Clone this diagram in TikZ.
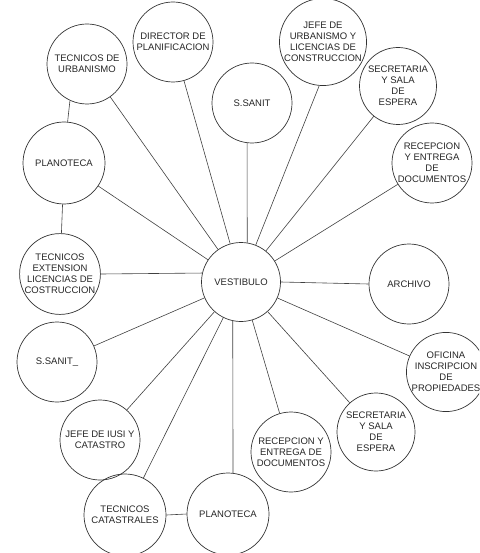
\documentclass[tikz,border=0pt]{standalone}
\usepackage{fontspec}
\setmainfont{Liberation Sans}
\begin{document}
\begin{tikzpicture}[x=1pt,y=-1pt,
  room/.style={circle, draw=black!80, line width=0.7pt, minimum size=80pt,
    inner sep=0pt, align=center, text=black!85,
    font=\fontsize{9.5}{11}\selectfont},
  link/.style={draw=black!75, line width=0.6pt}]
\useasboundingbox (0,0) rectangle (479,553);
\clip (0,0) rectangle (479,553);

% central hall
\node[room, minimum size=79pt] (vest) at (241,282) {VESTIBULO};

% surrounding rooms
\node[room] (tu)    at (87,64)   {TECNICOS DE\\URBANISMO};
\node[room] (dir)   at (173,42)  {DIRECTOR DE\\PLANIFICACION};
\node[room] (ssan1) at (252,103) {S.SANIT};
\node[room, minimum size=82pt] (jefeu) at (323,42) {JEFE DE\\URBANISMO Y\\LICENCIAS DE\\CONSTRUCCION};
\node[room, minimum size=77pt] (sec1) at (398,86) {SECRETARIA\\Y SALA\\DE\\ESPERA};
\node[room] (rec1)  at (432,163) {RECEPCION\\Y ENTREGA\\DE\\DOCUMENTOS};
\node[room] (arch)  at (409,284) {ARCHIVO};
\node[room, minimum size=78pt] (ofi) at (446,372) {OFICINA\\INSCRIPCION\\DE\\PROPIEDADES};
\node[room, minimum size=78pt] (sec2) at (376,432) {SECRETARIA\\Y SALA\\DE\\ESPERA};
\node[room] (rec2)  at (291,452) {RECEPCION Y\\ENTREGA DE\\DOCUMENTOS};
\node[room, minimum size=82pt] (plan2) at (228,514) {PLANOTECA};
\node[room, minimum size=82pt] (tc) at (125,515) {TECNICOS\\CATASTRALES};
\node[room] (iusi)  at (100,440) {JEFE DE IUSI Y\\CATASTRO};
\node[room] (ssan2) at (57,362)  {S.SANIT\_};
\node[room, minimum size=78pt] (tex) at (60,274) {TECNICOS\\EXTENSION\\LICENCIAS DE\\COSTRUCCION};
\node[room, minimum size=82pt] (plan1) at (64,163) {PLANOTECA};

% connections from the hall
\draw[link] (vest) -- (tu);
\draw[link] (vest) -- (dir);
\draw[link] (vest.81) -- (ssan1.263);
\draw[link] (jefeu.265) -- (vest);
\draw[link] (vest) -- (sec1);
\draw[link] (vest) -- (rec1);
\draw[link] (vest.east) -- (arch.west);
\draw[link] (vest) -- (ofi);
\draw[link] (vest) -- (sec2);
\draw[link] (vest) -- (rec2);
\draw[link] (vest.258) -- (plan2.83);
\draw[link] (vest) -- (tc);
\draw[link] (vest) -- (iusi);
\draw[link] (vest) -- (ssan2);
\draw[link] (tex.east) -- (vest.167);
\draw[link] (vest) -- (plan1);

% connections between outer rooms
\draw[link] (tu.245) -- (plan1.85);
\draw[link] (plan1.268) -- (tex.88);
\draw[link] (tc.east) -- (plan2.west);
\end{tikzpicture}
\end{document}
